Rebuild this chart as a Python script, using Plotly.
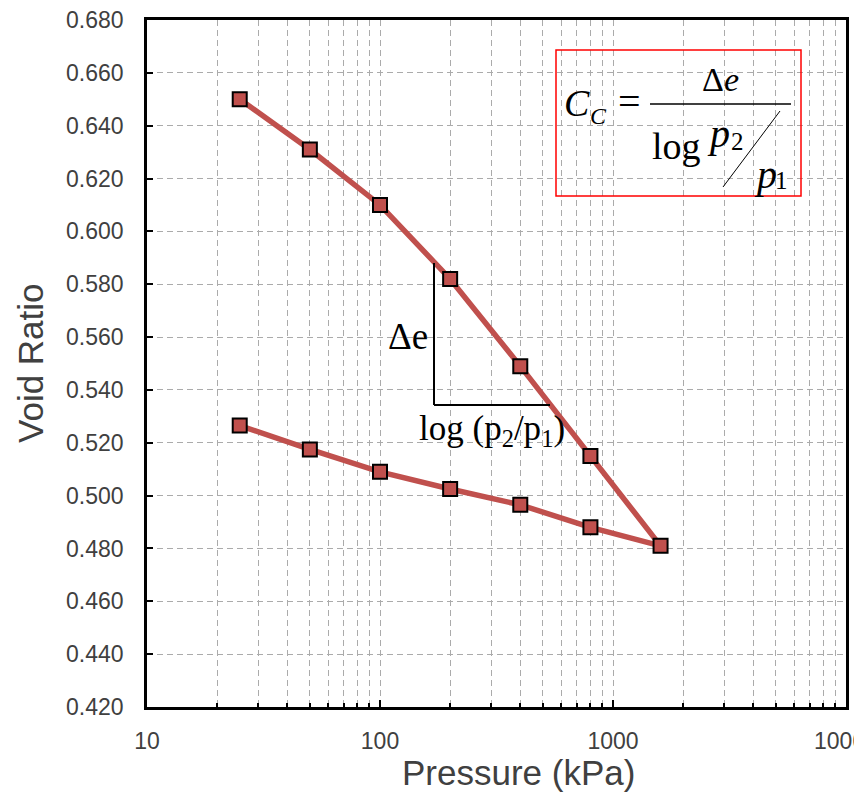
import plotly.graph_objects as go

# ---- data ----
loading_p = [25, 50, 100, 200, 400, 800, 1600]
loading_e = [0.650, 0.631, 0.610, 0.582, 0.549, 0.515, 0.481]
unloading_p = [800, 400, 200, 100, 50, 25]
unloading_e = [0.488, 0.4965, 0.5025, 0.509, 0.5175, 0.5265]
x_tickvals = [10, 100, 1000, 10000]
x_ticktext = ["10", "100", "1000", "10000"]

W, H = 854, 792
L, R, T, B = 147, 8, 20, 85
PW, PH = W - L - R, H - T - B


def px(x):
    return (x - L) / PW


def py(y):
    return (H - B - y) / PH


RED = "#c0504d"
GRID = "#ababab"
TXT = "#404040"
SERIF = "Liberation Serif, Times New Roman, serif"
SANS = "Liberation Sans, Arial, sans-serif"

fig = go.Figure()
fig.add_trace(go.Scatter(
    x=loading_p + unloading_p,
    y=loading_e + unloading_e,
    mode="lines+markers",
    line=dict(color=RED, width=5.5),
    marker=dict(symbol="square", size=14, color=RED, line=dict(color="black", width=2)),
    showlegend=False,
))

shapes = []
# formula box
shapes.append(dict(type="rect", xref="paper", yref="paper",
                   x0=px(556), x1=px(801), y0=py(196), y1=py(50),
                   line=dict(color="#ff0000", width=1.5)))
# fraction bar
shapes.append(dict(type="line", xref="paper", yref="paper",
                   x0=px(650), x1=px(791), y0=py(104), y1=py(104),
                   line=dict(color="black", width=1.5)))
# slash
shapes.append(dict(type="line", xref="paper", yref="paper",
                   x0=px(780), x1=px(723), y0=py(111), y1=py(187),
                   line=dict(color="black", width=1)))
# triangle
shapes.append(dict(type="line", xref="paper", yref="paper",
                   x0=px(434), x1=px(434), y0=py(263), y1=py(405),
                   line=dict(color="black", width=2)))
shapes.append(dict(type="line", xref="paper", yref="paper",
                   x0=px(434), x1=px(550), y0=py(405), y1=py(405),
                   line=dict(color="black", width=2)))


def ann(text, x, y, size, family=SERIF, color="black", angle=0):
    return dict(text=text, x=px(x), y=py(y), xref="paper", yref="paper",
                xanchor="center", yanchor="middle", showarrow=False,
                textangle=angle, font=dict(family=family, size=size, color=color))


annotations = [
    ann("<i>C</i>", 577, 103, 38),
    ann("<i>C</i>", 598, 116, 24),
    ann("=", 629, 101, 40),
    ann("Δ<i>e</i>", 720, 79, 34),
    ann("log", 676, 146, 38),
    ann("<i>p</i>", 718, 133, 40),
    ann("2", 737, 141, 25),
    ann("<i>p</i>", 765, 174, 40),
    ann("1", 781, 180, 25),
    ann("Δe", 408, 336, 37),
    ann("log (p<sub>2</sub>/p<sub>1</sub>)", 492, 430, 35),
    ann("Pressure (kPa)", 518, 772, 35, family=SANS, color=TXT),
    ann("Void Ratio", 30, 363, 35, family=SANS, color=TXT, angle=-90),
]

fig.update_layout(
    width=W, height=H,
    margin=dict(l=L, r=R, t=T, b=B, autoexpand=False),
    plot_bgcolor="white", paper_bgcolor="white",
    shapes=shapes, annotations=annotations,
    font=dict(family=SANS, color=TXT),
)
fig.update_xaxes(
    type="log", range=[1, 4], automargin=False,
    tickvals=x_tickvals, ticktext=x_ticktext, ticklabeloverflow="allow",
    ticks="inside", ticklen=7, tickwidth=2, tickcolor="black",
    tickfont=dict(family=SANS, size=23, color=TXT),
    ticklabelstandoff=12,
    showline=True, linecolor="black", linewidth=2.5, mirror=True,
    showgrid=True, gridcolor=GRID, gridwidth=1, griddash="6px,4px",
    minor=dict(dtick="D1", ticks="inside", ticklen=4, tickcolor="black",
               showgrid=True, gridcolor=GRID, gridwidth=1, griddash="6px,4px"),
    zeroline=False,
)
fig.update_yaxes(
    range=[0.42, 0.68], dtick=0.02, tick0=0.42, tickformat=".3f", automargin=False,
    ticks="inside", ticklen=6, tickwidth=2, tickcolor="black",
    tickfont=dict(family=SANS, size=23, color=TXT),
    ticklabelstandoff=16,
    showline=True, linecolor="black", linewidth=2.5, mirror=True,
    showgrid=True, gridcolor=GRID, gridwidth=1, griddash="6px,4px",
    zeroline=False,
)

fig.write_html("out.html", config={"displayModeBar": False},
               post_script="document.body.style.margin='0';document.body.style.padding='0';")
